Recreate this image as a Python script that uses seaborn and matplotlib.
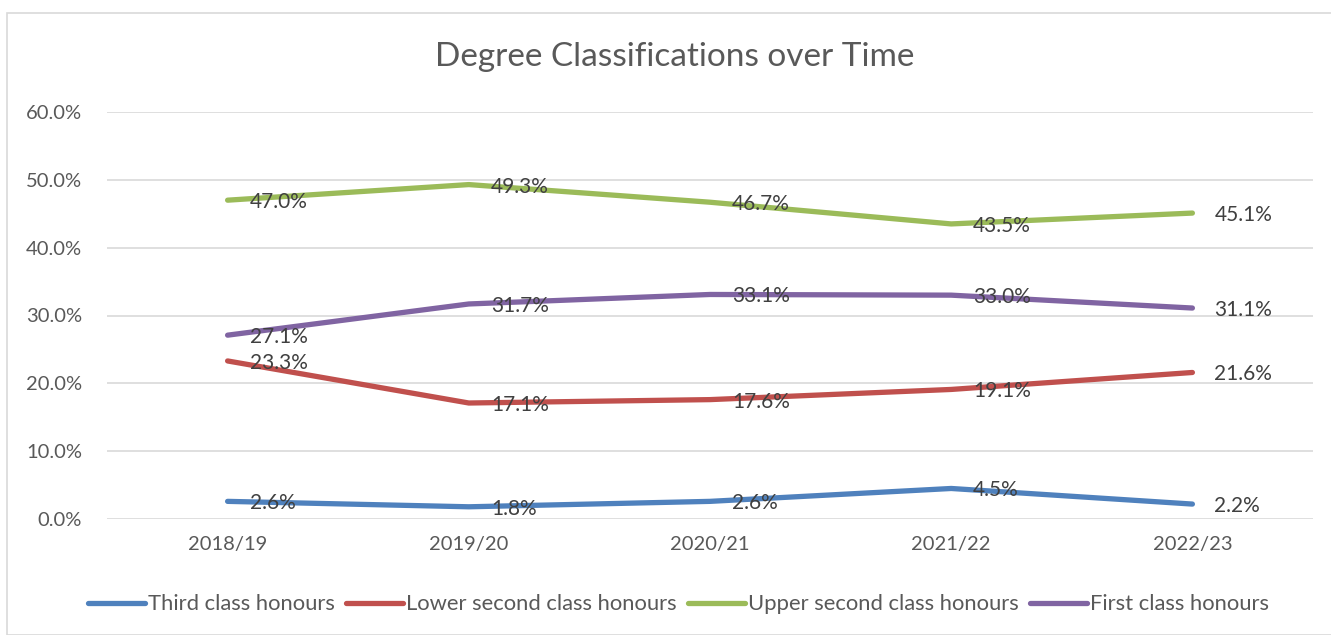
import matplotlib.pyplot as plt
import pandas as pd
import seaborn as sns
from matplotlib.patches import Rectangle
from matplotlib.ticker import PercentFormatter

years = ["2018/19", "2019/20", "2020/21", "2021/22", "2022/23"]
third = [2.6, 1.8, 2.6, 4.5, 2.2]
lower_second = [23.3, 17.1, 17.6, 19.1, 21.6]
upper_second = [47.0, 49.3, 46.7, 43.5, 45.1]
first = [27.1, 31.7, 33.1, 33.0, 31.1]

series = {
    "Third class honours": third,
    "Lower second class honours": lower_second,
    "Upper second class honours": upper_second,
    "First class honours": first,
}
colors = ["#4F81BD", "#C0504D", "#9BBB59", "#8064A2"]

df = pd.DataFrame(
    [(y, name, v) for name, vals in series.items() for y, v in zip(years, vals)],
    columns=["year", "class", "value"],
)
df["pos"] = df["year"].map({y: i for i, y in enumerate(years)})

sns.set_theme(style="white")
plt.rcParams["font.family"] = ["Lato", "DejaVu Sans"]
text_color = "#595959"

fig = plt.figure(figsize=(13.31, 6.35), dpi=100)
ax = fig.add_axes([107 / 1331, 1 - 519 / 635, (1313 - 107) / 1331, (519 - 112) / 635])

fig.patches.append(Rectangle((7 / 1331, 0), 1.0, 1 - 13 / 635, transform=fig.transFigure,
                             fill=False, edgecolor="#D9D9D9", linewidth=1.2))

sns.lineplot(data=df, x="pos", y="value", hue="class", palette=colors,
             linewidth=3.8, ax=ax, legend=True, solid_capstyle="round")

for name, vals in series.items():
    for i, v in enumerate(vals):
        ax.annotate(f"{v:.1f}%", (i, v), xytext=(22, -2), textcoords="offset pixels",
                    va="center", ha="left", fontsize=15, color="#404040")

ax.set_xlim(-0.5, len(years) - 0.5)
ax.set_ylim(0, 60)
ax.set_yticks(range(0, 61, 10))
ax.yaxis.set_major_formatter(PercentFormatter(decimals=1))
ax.set_xticks(range(len(years)))
ax.set_xticklabels(years)
ax.tick_params(axis="both", labelsize=14.5, labelcolor=text_color, length=0)
ax.tick_params(axis="y", pad=18)
ax.tick_params(axis="x", pad=12)
ax.grid(axis="y", color="#D9D9D9", linewidth=1.2)
ax.set_axisbelow(True)
for s in ax.spines.values():
    s.set_visible(False)
ax.set_xlabel("")
ax.set_ylabel("")

fig.text(675 / 1331, 1 - 57 / 635, "Degree Classifications over Time", ha="center",
         va="center", fontsize=24, color=text_color)

handles, labels = ax.get_legend_handles_labels()
ax.legend(handles, labels, loc="center", bbox_to_anchor=(0.474, -0.21), ncol=4,
          frameon=False, fontsize=15.8, handlelength=2.6, handletextpad=0.15,
          columnspacing=0.5, labelcolor=text_color)

fig.savefig("out.png", dpi=100)
